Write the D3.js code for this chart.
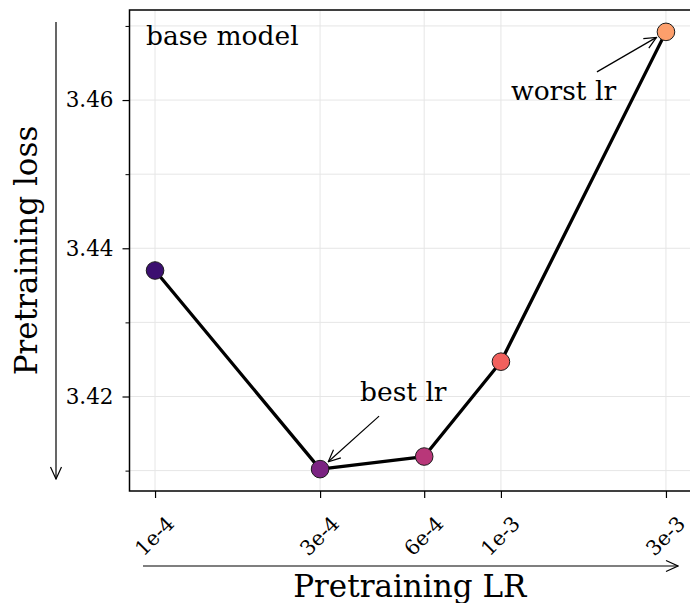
<!DOCTYPE html>
<html>
<head>
<meta charset="utf-8">
<script src="https://cdn.jsdelivr.net/npm/d3@7"></script>
<style>
  body { margin: 0; background: #fff; }
  svg { display: block; }
  text { font-family: "DejaVu Serif", serif; fill: #000; }
</style>
</head>
<body>
<svg id="chart" width="690" height="603"></svg>
<script>
// Learning-rate sweep for the base model
const learningRates = [1e-4, 3e-4, 6e-4, 1e-3, 3e-3];
const lrTickLabels = ["1e-4", "3e-4", "6e-4", "1e-3", "3e-3"];
const losses = [3.4370, 3.4102, 3.4119, 3.4247, 3.4692];
const pointColors = ["#3b0f70", "#7b2382", "#b83779", "#f1605d", "#fd9f6c"];
const yMajorTicks = [3.42, 3.44, 3.46];
const yMinorTicks = [3.41, 3.43, 3.45, 3.47];
const callouts = [
  { text: "best lr", index: 1, from: [59, -53], label: [40, -68] },
  { text: "worst lr", index: 4, from: [-69, 40], label: [-155, 68] }
];

const svg = d3.select("#chart");
const plot = { left: 129.5, right: 691.5, top: 10, bottom: 491 };

// Axis limits with 5% padding (log-space for x)
const lx0 = Math.log10(d3.min(learningRates)), lx1 = Math.log10(d3.max(learningRates));
const px = 0.05 * (lx1 - lx0);
const x = d3.scaleLog()
  .domain([Math.pow(10, lx0 - px), Math.pow(10, lx1 + px)])
  .range([plot.left, plot.right]);
const y0 = d3.min(losses), y1 = d3.max(losses);
const py = 0.05 * (y1 - y0);
const y = d3.scaleLinear().domain([y0 - py, y1 + py]).range([plot.bottom, plot.top]);

const defs = svg.append("defs");
defs.append("marker")
  .attr("id", "head")
  .attr("viewBox", "0 0 14 14")
  .attr("refX", 13).attr("refY", 7)
  .attr("markerWidth", 14).attr("markerHeight", 14)
  .attr("markerUnits", "userSpaceOnUse")
  .attr("orient", "auto")
  .append("path")
  .attr("d", "M1,1.5 L13,7 L1,12.5")
  .attr("fill", "none").attr("stroke", "#000").attr("stroke-width", 1.2);

// Grid
const grid = svg.append("g").attr("stroke", "#e6e6e6").attr("stroke-width", 1);
grid.selectAll("line.gx").data(learningRates).join("line")
  .attr("class", "gx")
  .attr("x1", d => x(d)).attr("x2", d => x(d))
  .attr("y1", plot.top).attr("y2", plot.bottom);
grid.selectAll("line.gy").data(yMajorTicks.concat(yMinorTicks)).join("line")
  .attr("class", "gy")
  .attr("x1", plot.left).attr("x2", plot.right)
  .attr("y1", d => y(d)).attr("y2", d => y(d));

// Y axis
const yAxis = svg.append("g").attr("transform", `translate(${plot.left},0)`)
  .call(d3.axisLeft(y).tickValues(yMajorTicks).tickSize(7).tickPadding(9).tickFormat(d3.format(".2f")));
yAxis.select(".domain").remove();
yAxis.selectAll(".tick line").attr("stroke-width", 1.2);
yAxis.selectAll(".tick text").style("font-size", "21.5px");
const yMinor = svg.append("g").attr("transform", `translate(${plot.left},0)`)
  .call(d3.axisLeft(y).tickValues(yMinorTicks).tickSize(4).tickFormat(""));
yMinor.select(".domain").remove();
yMinor.selectAll(".tick line").attr("stroke-width", 1);

// X axis
const xAxis = svg.append("g").attr("transform", `translate(0,${plot.bottom})`)
  .call(d3.axisBottom(x).tickValues(learningRates).tickSize(7).tickFormat((d, i) => lrTickLabels[i]));
xAxis.select(".domain").remove();
xAxis.selectAll(".tick line").attr("stroke-width", 1.2);
xAxis.selectAll(".tick text")
  .style("font-size", "20.5px")
  .attr("y", 0).attr("dy", null)
  .attr("text-anchor", "middle")
  .attr("dominant-baseline", "central")
  .attr("transform", "translate(-1,45) rotate(-45)");

// Frame
svg.append("rect")
  .attr("x", plot.left).attr("y", plot.top)
  .attr("width", plot.right - plot.left).attr("height", plot.bottom - plot.top)
  .attr("fill", "none").attr("stroke", "#000").attr("stroke-width", 1.5);

// Loss curve
const pts = learningRates.map((lr, i) => ({ lr, loss: losses[i], color: pointColors[i] }));
svg.append("path")
  .datum(pts)
  .attr("fill", "none").attr("stroke", "#000").attr("stroke-width", 3.3)
  .attr("stroke-linejoin", "round")
  .attr("d", d3.line().x(d => x(d.lr)).y(d => y(d.loss)));
svg.selectAll("circle.pt").data(pts).join("circle")
  .attr("class", "pt")
  .attr("cx", d => x(d.lr)).attr("cy", d => y(d.loss))
  .attr("r", 8.8)
  .attr("fill", d => d.color)
  .attr("stroke", "#1a1a1a").attr("stroke-width", 1);

// Callouts
callouts.forEach(c => {
  const cx = x(learningRates[c.index]), cy = y(losses[c.index]);
  const sx = cx + c.from[0], sy = cy + c.from[1];
  const len = Math.hypot(sx - cx, sy - cy);
  const shrink = 11;
  const ex = cx + (sx - cx) * shrink / len, ey = cy + (sy - cy) * shrink / len;
  svg.append("line")
    .attr("x1", sx).attr("y1", sy).attr("x2", ex).attr("y2", ey)
    .attr("stroke", "#000").attr("stroke-width", 1.2)
    .attr("marker-end", "url(#head)");
  svg.append("text")
    .attr("x", cx + c.label[0]).attr("y", cy + c.label[1])
    .style("font-size", "26.5px")
    .text(c.text);
});

svg.append("text")
  .attr("x", 146).attr("y", 45)
  .style("font-size", "26.5px")
  .text("base model");

// Axis titles with direction arrows
svg.append("line")
  .attr("x1", 143).attr("y1", 566).attr("x2", 678).attr("y2", 566)
  .attr("stroke", "#000").attr("stroke-width", 1.2)
  .attr("marker-end", "url(#head)");
svg.append("text")
  .attr("x", (plot.left + 690) / 2).attr("y", 597)
  .attr("text-anchor", "middle")
  .style("font-size", "31px")
  .text("Pretraining LR");

svg.append("line")
  .attr("x1", 56).attr("y1", 22).attr("x2", 56).attr("y2", 479)
  .attr("stroke", "#000").attr("stroke-width", 1.2)
  .attr("marker-end", "url(#head)");
svg.append("text")
  .attr("transform", `translate(37,${(plot.top + plot.bottom) / 2}) rotate(-90)`)
  .attr("text-anchor", "middle")
  .style("font-size", "31px")
  .text("Pretraining loss");
</script>
</body>
</html>
